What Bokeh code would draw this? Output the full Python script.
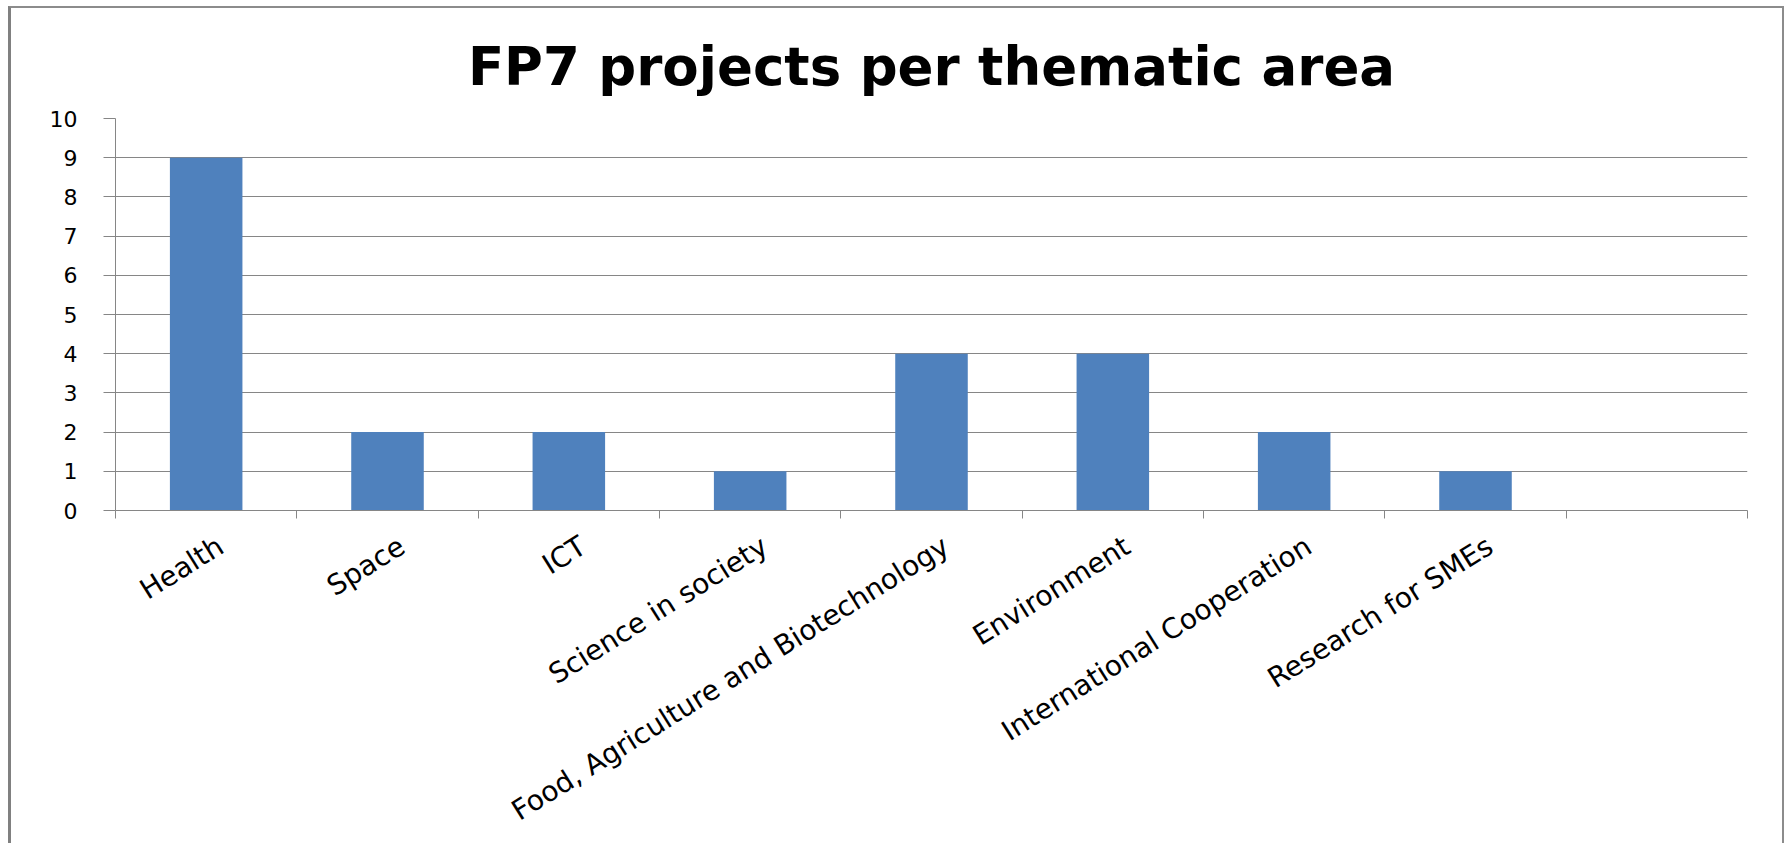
import math
from bokeh.plotting import figure
from bokeh.models import Range1d, FixedTicker
from bokeh.embed import file_html
from bokeh.resources import INLINE

# ---- data ----
title_text = "FP7 projects per thematic area"
categories = [
    "Health",
    "Space",
    "ICT",
    "Science in society",
    "Food, Agriculture and Biotechnology",
    "Environment",
    "International Cooperation",
    "Research for SMEs",
]
projects = [9, 2, 2, 1, 4, 4, 2, 1]
n_slots = 9  # the category axis has one trailing empty slot
y_ticks = [0, 1, 2, 3, 4, 5, 6, 7, 8, 9, 10]

# ---- derived positions (category centres on a numeric category scale) ----
centers = [i + 0.5 for i in range(len(categories))]
label_pos = [c + 0.08 for c in centers]   # label anchor slightly right of centre
boundaries = list(range(n_slots + 1))

GRID = "#868686"
FONT = "DejaVu Sans"

p = figure(
    width=1776, height=837,
    x_range=Range1d(0, n_slots), y_range=Range1d(0, y_ticks[-1]),
    output_backend="svg", toolbar_location=None,
    title=title_text,
    min_border_left=104, min_border_right=40,
    min_border_top=110, min_border_bottom=335,
    background_fill_color="white", border_fill_color="white",
    outline_line_color=None,
)
p.styles = {
    "margin-left": "8px",
    "margin-top": "6px",
    "border-left": "3px solid #808080",
    "border-top": "2px solid #8c8c8c",
    "border-right": "2px solid #8c8c8c",
}

p.title.text_font = FONT
p.title.text_font_style = "bold"
p.title.text_font_size = "53px"
p.title.text_color = "#000000"
p.title.align = "center"
p.title.standoff = 43

p.vbar(x=centers, top=projects, width=0.4, bottom=0,
       fill_color="#4F81BD", line_color=None)

# grid
p.xgrid.visible = False
p.ygrid.ticker = FixedTicker(ticks=y_ticks)
p.ygrid.grid_line_color = GRID
p.ygrid.grid_line_width = 1

# y axis
ya = p.yaxis[0]
ya.ticker = FixedTicker(ticks=y_ticks)
ya.axis_line_color = GRID
ya.major_tick_line_color = GRID
ya.major_tick_out = 12
ya.major_tick_in = 0
ya.minor_tick_out = 0
ya.minor_tick_in = 0
ya.major_label_text_font = FONT
ya.major_label_text_font_size = "22px"
ya.major_label_text_color = "#000000"
ya.major_label_standoff = 26

# x axis
xa = p.xaxis[0]
xa.ticker = FixedTicker(ticks=label_pos, minor_ticks=boundaries)
xa.axis_line_color = GRID
xa.major_tick_out = 0
xa.major_tick_in = 0
xa.minor_tick_out = 8
xa.minor_tick_in = 0
xa.minor_tick_line_color = GRID
xa.major_label_overrides = {c: name for c, name in zip(label_pos, categories)}
xa.major_label_orientation = math.radians(32)
xa.major_label_text_font = FONT
xa.major_label_text_font_size = "28px"
xa.major_label_text_color = "#000000"
xa.major_label_standoff = 25

open("out.html", "w").write(file_html(p, INLINE))
